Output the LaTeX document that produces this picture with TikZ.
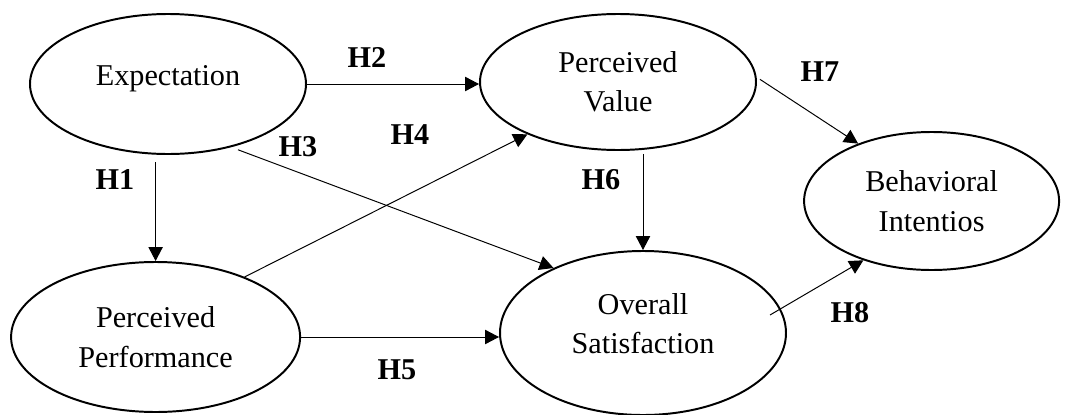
\documentclass[tikz,border=0pt]{standalone}
\usepackage{fontspec}
\setmainfont{Liberation Serif}
\usetikzlibrary{arrows.meta}
\usetikzlibrary{shapes.geometric}

\begin{document}
\begin{tikzpicture}[
    latent/.style={ellipse, draw, line width=1.4pt, inner sep=0pt, align=center,
        font=\fontsize{21.5}{28}\selectfont},
    pfad/.style={-{Triangle[length=0.35cm,width=0.36cm]}, line width=0.7pt},
    hyp/.style={inner sep=0pt, font=\fontsize{21.5}{28}\selectfont\bfseries}
]
    \useasboundingbox (0,0) rectangle (26.95,10.35);
    % Konstrukte (Ellipsen)
    \node[latent, minimum width=6.9cm, minimum height=3.5cm, text depth=0.41cm] (expect) at (4.2,8.25) {Expectation};
    \node[latent, minimum width=7.225cm, minimum height=3.75cm] (perf) at (3.89,1.925) {Perceived\\Performance};
    \node[latent, minimum width=6.9cm, minimum height=3.4cm] (value) at (15.45,8.3) {Perceived\\Value};
    \node[latent, minimum width=7.15cm, minimum height=4.1cm, text depth=0.47cm] (satis) at (16.075,2.025) {Overall\\Satisfaction};
    \node[latent, minimum width=6.375cm, minimum height=3.45cm] (behav) at (23.29,5.325) {Behavioral\\Intentios};
    % Pfade zwischen den Konstrukten
    \draw[pfad, shorten <=0.18cm] (perf.north |- expect.south) -- (perf.north); % H1
    \draw[pfad] (expect.east) -- (expect.east -| value.west); % H2
    \draw[pfad, shorten <=0.18cm] (expect.-45) -- (satis.144); % H3
    \draw[pfad] (perf.34) -- (value.210); % H4
    \draw[pfad] (perf.east) -- (perf.east -| satis.west); % H5
    \draw[pfad, shorten <=0.075cm] (satis.north |- value.south) -- (satis.north); % H6
    \draw[pfad, shorten <=0.1cm] (value.2) -- (behav.142); % H7
    \draw[pfad] ([shift={(3.175,0.45)}]satis.center) -- (behav.221); % H8
    % Hypothesen beschriften
    \foreach \h/\x/\y in {H1/2.875/5.85, H2/9.175/8.925, H3/7.45/6.675, H4/10.25/6.975,
                          H5/9.925/1.1, H6/15.025/5.85, H7/20.5/8.55, H8/21.25/2.525} {
        \node[hyp] (\h) at (\x,\y) {\h};
    }
\end{tikzpicture}
\end{document}
